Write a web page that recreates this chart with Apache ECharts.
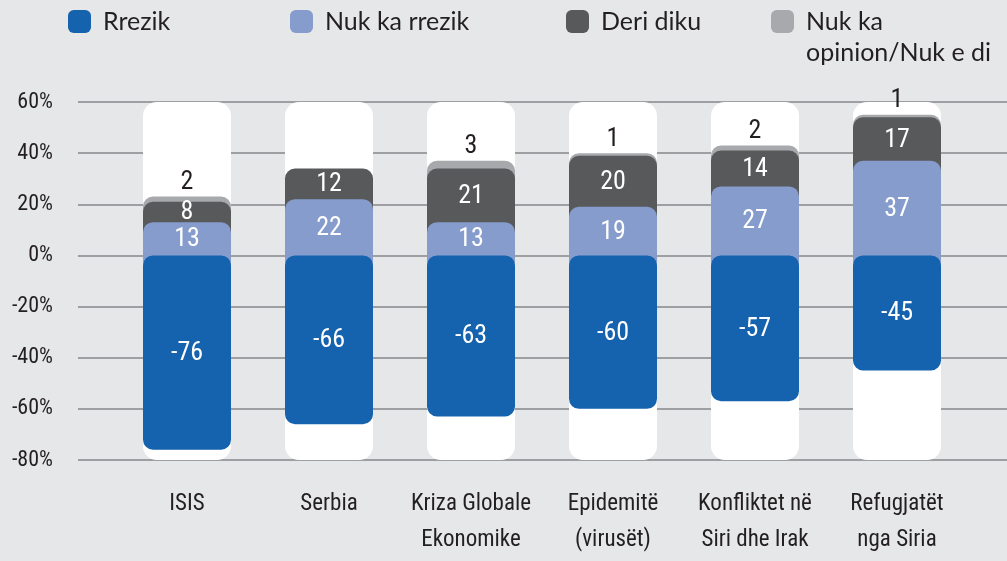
<!DOCTYPE html>
<html><head><meta charset="utf-8">
<script src="https://cdn.jsdelivr.net/npm/echarts@6/dist/echarts.min.js"></script>
<style>html,body{margin:0;padding:0;background:#e6e7e8;}</style>
</head>
<body><div id="c" style="width:1007px;height:561px"></div>
<script>
// ---- data ----
const categories = ['ISIS', 'Serbia', 'Kriza Globale\nEkonomike', 'Epidemitë\n(virusët)', 'Konfliktet në\nSiri dhe Irak', 'Refugjatët\nnga Siria'];
const rrezik = [-76, -66, -63, -60, -57, -45];
const nukKaRrezik = [13, 22, 13, 19, 27, 37];
const deriDiku = [8, 12, 21, 20, 14, 17];
const nukKaOpinion = [2, 0, 3, 1, 2, 1];
const seriesNames = ['Rrezik', 'Nuk ka rrezik', 'Deri diku', 'Nuk ka opinion/Nuk e di'];
const yMin = -80, yMax = 60, yStep = 20;

// ---- style ----
const COLORS = ['#1562ae', '#859ccd', '#58595b', '#a7a9ac'];
const TEXT = '#231f20';
const BAR_W = 88, R = 10, BG_R = 14;
const COND = '"Roboto Condensed", "Roboto", sans-serif';

// stacked bases for the positive series
const base1 = nukKaRrezik.map(() => 0);
const base2 = nukKaRrezik.map((v, i) => base1[i] + v);
const base3 = deriDiku.map((v, i) => base2[i] + v);

function rows(vals, bases) {
  return vals.map((v, i) => [i, bases ? bases[i] : 0, (bases ? bases[i] : 0) + v, v]);
}

function segRender(color, order, topLabel) {
  return function (params, api) {
    const v = api.value(3);
    if (!v) return null;
    const i = api.value(0);
    const a = api.coord([i, api.value(1)]);
    const b = api.coord([i, api.value(2)]);
    const x = a[0] - BAR_W / 2;
    const children = [];
    if (v > 0) {
      const yTop = b[1], yBot = a[1] + R;
      children.push({ type: 'rect', z2: order,
        shape: { x: x, y: yTop, width: BAR_W, height: yBot - yTop, r: [R, R, 0, 0] },
        style: { fill: color } });
    } else {
      children.push({ type: 'rect', z2: order,
        shape: { x: x, y: a[1], width: BAR_W, height: b[1] - a[1], r: R },
        style: { fill: color } });
    }
    if (topLabel) {
      children.push({ type: 'text', z2: 20, x: a[0], y: b[1] - 1,
        style: { text: String(v), fill: TEXT, fontFamily: COND, fontSize: 26, align: 'center', verticalAlign: 'bottom' } });
    } else {
      children.push({ type: 'text', z2: 20, x: a[0], y: (a[1] + b[1]) / 2 + 1,
        style: { text: String(v), fill: '#ffffff', fontFamily: COND, fontSize: 26, align: 'center', verticalAlign: 'middle' } });
    }
    return { type: 'group', children: children };
  };
}

const chart = echarts.init(document.getElementById('c'), null, { renderer: 'canvas' });

const legendCommon = {
  orient: 'horizontal', top: 9, padding: 0, itemGap: 0,
  itemWidth: 23, itemHeight: 23, icon: 'roundRect', selectedMode: false,
  textStyle: { fontFamily: 'Lato', fontSize: 25, color: TEXT, padding: [0, 0, 0, 7] }
};

chart.setOption({
  backgroundColor: '#e6e7e8',
  animation: false,
  legend: [
    Object.assign({}, legendCommon, { left: 68, data: [seriesNames[0]] }),
    Object.assign({}, legendCommon, { left: 290, data: [seriesNames[1]] }),
    Object.assign({}, legendCommon, { left: 566, data: [seriesNames[2]] }),
    Object.assign({}, legendCommon, { left: 771, data: [seriesNames[3]], formatter: () => 'Nuk ka' })
  ],
  graphic: [{
    type: 'text', left: 806, top: 40,
    style: { text: 'opinion/Nuk e di', fill: TEXT, fontFamily: 'Lato', fontSize: 25 }
  }],
  grid: [
    { left: 116, right: 39, top: 102, bottom: 101 },
    { left: 78, right: 0, top: 102, bottom: 101 }
  ],
  xAxis: [
    { type: 'category', gridIndex: 0, data: categories,
      axisLine: { show: false }, axisTick: { show: false }, splitLine: { show: false },
      axisLabel: { interval: 0, margin: 26, color: TEXT, fontFamily: COND, fontSize: 23, lineHeight: 36 } },
    { type: 'value', gridIndex: 1, show: false, min: 0, max: 1 }
  ],
  yAxis: [
    { type: 'value', gridIndex: 0, min: yMin, max: yMax, interval: yStep, show: false },
    { type: 'value', gridIndex: 1, min: yMin, max: yMax, interval: yStep,
      axisLine: { show: false }, axisTick: { show: false },
      axisLabel: { formatter: '{value}%', margin: 25, color: TEXT, fontFamily: COND, fontSize: 22 },
      splitLine: { lineStyle: { color: '#9d9fa2', width: 2 } } }
  ],
  series: [
    { type: 'custom', name: '_bg', silent: true, z: 1, xAxisIndex: 0, yAxisIndex: 0,
      encode: { x: 0, y: 1 },
      data: categories.map((c, i) => [i, yMin]),
      renderItem: function (params, api) {
        const i = api.value(0);
        const t = api.coord([i, yMax]), b = api.coord([i, yMin]);
        return { type: 'rect', shape: { x: t[0] - BAR_W / 2, y: t[1], width: BAR_W, height: b[1] - t[1], r: BG_R }, style: { fill: '#ffffff' } };
      } },
    { type: 'custom', name: seriesNames[0], z: 3, itemStyle: { color: COLORS[0] },
      encode: { x: 0, y: [1, 2] }, data: rows(rrezik, null), renderItem: segRender(COLORS[0], 4, false) },
    { type: 'custom', name: seriesNames[1], z: 3, itemStyle: { color: COLORS[1] },
      encode: { x: 0, y: [1, 2] }, data: rows(nukKaRrezik, base1), renderItem: segRender(COLORS[1], 3, false) },
    { type: 'custom', name: seriesNames[2], z: 3, itemStyle: { color: COLORS[2] },
      encode: { x: 0, y: [1, 2] }, data: rows(deriDiku, base2), renderItem: segRender(COLORS[2], 2, false) },
    { type: 'custom', name: seriesNames[3], z: 3, itemStyle: { color: COLORS[3] },
      encode: { x: 0, y: [1, 2] }, data: rows(nukKaOpinion, base3), renderItem: segRender(COLORS[3], 1, true) }
  ]
});
</script></body></html>
